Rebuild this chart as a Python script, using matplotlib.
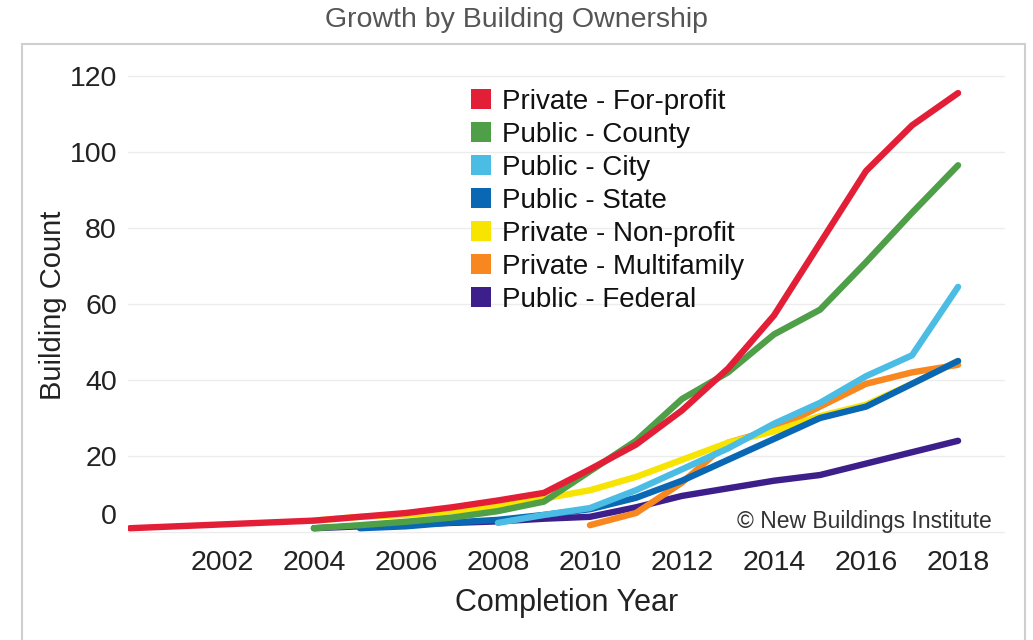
import matplotlib
matplotlib.use("Agg")
import matplotlib.pyplot as plt
from matplotlib.patches import Patch, Rectangle
from matplotlib.transforms import ScaledTranslation

plt.rcParams['font.family'] = ['Liberation Sans', 'DejaVu Sans']

# Completion years
years = list(range(2000, 2019))

# Cumulative building counts per ownership type
private_for_profit = [1, 1.5, 2, 2.5, 3, 4, 5, 6.5, 8.3, 10.3, 16.5, 23, 32, 43, 57, 76, 95, 107, 115.5]

county_years = list(range(2004, 2019))
public_county = [1, 1.8, 2.7, 3.8, 5.5, 8, 16, 24, 35, 42, 52, 58.5, 71, 84, 96.5]

city_years = list(range(2008, 2019))
public_city = [2.4, 4.5, 6.3, 11, 16.5, 22, 28.5, 34, 41, 46.5, 64.5]

state_years = list(range(2005, 2019))
public_state = [1, 1.5, 2.5, 3.2, 4.5, 6, 9, 13.5, 19, 24.5, 30, 33, 39, 45]

nonprofit_years = list(range(2004, 2019))
private_non_profit = [3, 4, 4.5, 5.5, 6.8, 8.8, 11, 14.5, 19, 23.5, 26.5, 30.5, 33.5, 39, 45]

multifamily_years = list(range(2010, 2019))
private_multifamily = [1.8, 5, 13, 23.5, 27, 33, 39, 42, 44]

federal_years = list(range(2004, 2019))
public_federal = [1, 1.5, 2, 2.4, 2.8, 3.5, 4, 6.5, 9.5, 11.5, 13.5, 15, 18, 21, 24]

series_names = ["Private - For-profit", "Public - County", "Public - City", "Public - State",
                "Private - Non-profit", "Private - Multifamily", "Public - Federal"]
series_x = [years, county_years, city_years, state_years, nonprofit_years, multifamily_years, federal_years]
series_y = [private_for_profit, public_county, public_city, public_state,
            private_non_profit, private_multifamily, public_federal]
series_colors = ["#e21f36", "#4f9e48", "#4bbde4", "#0a67b4", "#f7e400", "#f7871e", "#3d1f8c"]

x_ticks = [2002, 2004, 2006, 2008, 2010, 2012, 2014, 2016, 2018]
y_ticks = [0, 20, 40, 60, 80, 100, 120]

W, H = 1033, 640
fig = plt.figure(figsize=(W / 100, H / 100), dpi=100)
fig.patch.set_facecolor("white")

# light outer frame around the chart panel
fig.patches.append(Rectangle((22 / W, -0.02), (1025 - 22) / W, 1.02 - 44 / H,
                             transform=fig.transFigure, fill=False,
                             edgecolor="#cfcfcf", linewidth=1.5))

ax = fig.add_axes([128 / W, 1 - 540 / H, (1005 - 128) / W, (540 - 71) / H])
ax.set_facecolor("white")

# draw last series first so the first legend entry sits on top
for xs, ys, c in reversed(list(zip(series_x, series_y, series_colors))):
    ax.plot(xs, ys, color=c, linewidth=4.6, solid_capstyle="round", solid_joinstyle="round")

ax.set_xlim(1999.96, 2019.02)
ax.set_ylim(-2.1, 121.3)
ax.set_xticks(x_ticks)
ax.set_yticks(y_ticks)
ax.grid(axis="y", color="#ececec", linewidth=1.0)
ax.set_axisbelow(True)
for s in ax.spines.values():
    s.set_visible(False)
ax.tick_params(axis="both", length=0, labelsize=20.5, colors="#222222")
ax.tick_params(axis="x", pad=7)
ax.tick_params(axis="y", pad=8)

# the zero label sits slightly above its gridline
for lbl in ax.get_yticklabels():
    if lbl.get_text() == "0":
        lbl.set_transform(lbl.get_transform() + ScaledTranslation(0, 0.18, fig.dpi_scale_trans))

ax.set_xlabel("Completion Year", fontsize=22, color="#222222", labelpad=9)
ax.set_ylabel("Building Count", fontsize=21, color="#222222", labelpad=2)

handles = [Patch(facecolor=c, edgecolor="none") for c in series_colors]
leg = ax.legend(handles, series_names, loc="upper left",
                bbox_to_anchor=(471 / W, 1 - 89 / H), bbox_transform=fig.transFigure,
                frameon=False, fontsize=20, handlelength=0.72, handleheight=0.72,
                handletextpad=0.4, labelspacing=0.25, borderpad=0, borderaxespad=0)
for t in leg.get_texts():
    t.set_color("#111111")

ax.text(0.985, 0.04, "\u00a9 New Buildings Institute", transform=ax.transAxes,
        ha="right", va="center", fontsize=16.5, color="#333333")

fig.text(0.5, 1 - 20 / H, "Growth by Building Ownership", ha="center", va="center",
         fontsize=20.5, color="#555555")

fig.savefig("out.png", dpi=100)
